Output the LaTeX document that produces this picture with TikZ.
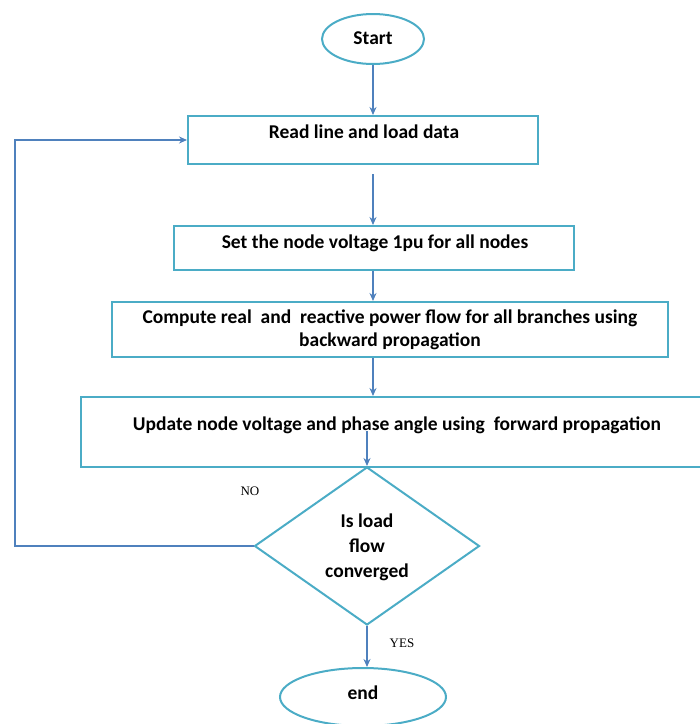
\documentclass[tikz,border=0pt]{standalone}
\usepackage{fontspec}
\setmainfont{Carlito}
\newfontfamily\serifl{Liberation Serif}
\usetikzlibrary{shapes.geometric,arrows.meta}
\definecolor{boxc}{HTML}{4BACC6}
\definecolor{arrc}{HTML}{4F81BD}
\tikzset{
  box/.style={draw=boxc, line width=2pt, rectangle, inner sep=0pt},
  oval/.style={draw=boxc, line width=2pt, ellipse, inner sep=0pt},
  dia/.style={draw=boxc, line width=2pt, diamond, inner sep=0pt},
  txt/.style={font=\bfseries\fontsize{19.5}{23.5}\selectfont, align=center, inner sep=0pt},
  lab/.style={font=\serifl\fontsize{13}{15}\selectfont, inner sep=0pt},
  arr/.style={draw=arrc, line width=2pt, -{Stealth[length=8pt,width=7pt]}},
  ln/.style={draw=arrc, line width=2pt}
}
\begin{document}
\begin{tikzpicture}[x=1pt,y=-1pt]
\useasboundingbox (0,0) rectangle (700,724);
\node[oval, minimum width=102pt, minimum height=50pt] (start) at (373,39) {};
\node[txt] (startt) at (373,38) {Start};
\node[box, minimum width=350pt, minimum height=48pt] (read) at (363,140) {};
\node[txt] (readt) at (364,132) {Read line and load data};
\node[box, minimum width=400pt, minimum height=44pt] (set) at (374,248) {};
\node[txt] (sett) at (375,243) {Set the node voltage 1pu for all nodes};
\node[box, minimum width=556pt, minimum height=55pt] (comp) at (390,329.5) {};
\node[txt] (compt) at (390,330) {Compute real\ \ and\ \ reactive power flow for all branches using\\backward propagation};
\node[box, minimum width=622pt, minimum height=70pt] (upd) at (392,432) {};
\node[txt] (updt) at (397,425) {Update node voltage and phase angle using\ \ forward propagation};
\node[dia, minimum width=225pt, minimum height=158pt] (dec) at (367,546) {};
\node[txt, font=\bfseries\fontsize{19.5}{25}\selectfont] (dect) at (367,547) {Is load\\flow\\converged};
\node[oval, minimum width=166pt, minimum height=58pt] (end) at (363,697) {};
\node[txt] (endt) at (363,693) {end};
\node[lab] (no) at (250,491) {NO};
\node[lab] (yes) at (402,643) {YES};
\coordinate (loopc) at (15,546);
\draw[arr] (start.south) -- (start.south |- read.north);
\draw[arr, shorten <=9pt] (start.south |- read.south) -- (start.south |- set.north);
\draw[arr] (start.south |- set.south) -- (start.south |- comp.north);
\draw[arr] (start.south |- comp.south) -- (start.south |- upd.north);
\draw[arr] ([yshift=35pt]dec.north) -- (dec.north);
\draw[arr] (dec.south) -- (dec.south |- end.north);
\draw[arr] (dec.west) -- (loopc) |- (read.west);
\end{tikzpicture}
\end{document}
